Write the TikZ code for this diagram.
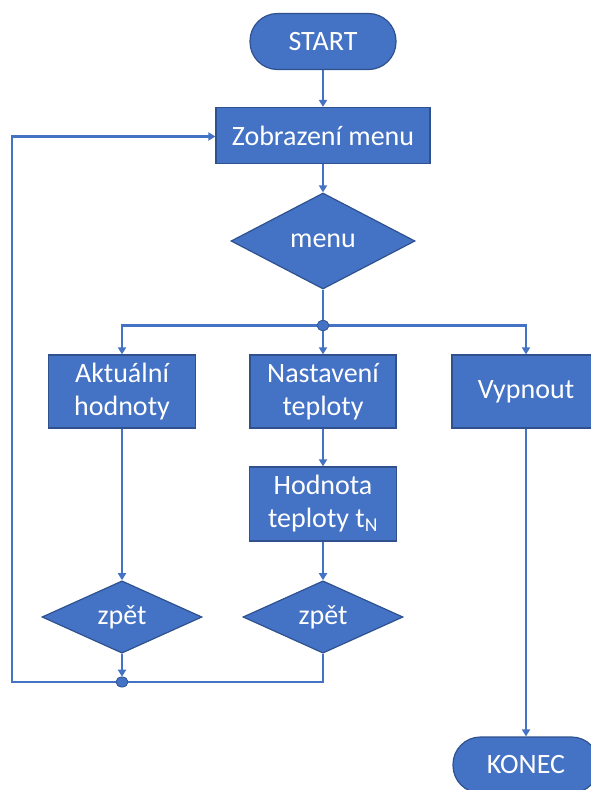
\documentclass[tikz,border=0pt]{standalone}
\usepackage{fontspec}
\setmainfont{Carlito}
\usetikzlibrary{shapes.geometric,arrows.meta}
\definecolor{flowblue}{HTML}{4472C4}
\definecolor{flowedge}{HTML}{2F528F}
\tikzset{
  base/.style={fill=flowblue, draw=flowedge, line width=1.2pt, text=white,
    font=\fontsize{28}{33}\selectfont, inner sep=0pt, align=center},
  terminal/.style={base, rectangle, rounded corners=27.5pt, minimum width=146pt, minimum height=56pt},
  process/.style={base, rectangle, minimum height=73pt},
  decision/.style={base, diamond, minimum width=160pt, minimum height=72pt},
  junction/.style={ellipse, fill=flowblue, draw=flowedge, line width=0.6pt,
    minimum width=12pt, minimum height=10pt, inner sep=0pt},
  flow/.style={draw=flowblue, line width=2.2pt, -{Triangle[width=8pt,length=7pt]}},
  link/.style={draw=flowblue, line width=2.2pt}
}
\begin{document}
\begin{tikzpicture}[x=1pt,y=-1pt]
  \useasboundingbox (0,0) rectangle (591,790);
  \clip (0,0) rectangle (591,790);

  % main column
  \node[terminal] (start) at (323,41.5) {START};
  \node[process, minimum width=214pt, minimum height=56pt] (show) at (323,135.5) {Zobrazení menu};
  \node[decision, minimum width=184pt, minimum height=96pt] (menu) at (323,241) {menu};
  \node[junction] (split) at (323,325.5) {};

  % branches
  \node[process, minimum width=147pt] (actual) at (122,391.5) {Aktuální\\hodnoty};
  \node[process, minimum width=146pt] (setup) at (323,391.5) {Nastavení\\teploty};
  \node[process, minimum width=148pt] (off) at (526,391.5) {Vypnout};
  \node[process, minimum width=147pt, minimum height=74pt] (value) at (323,504) {Hodnota\\teploty t\textsubscript{N}};

  \node[decision] (back1) at (122,617) {zpět};
  \node[decision] (back2) at (323,617) {zpět};
  \node[junction] (merge) at (122,682) {};
  \node[terminal] (end) at (526,765) {KONEC};

  % corner points of the return loop
  \coordinate (loopbl) at (12,682);
  \coordinate (looptl) at (12,136.5);
  \coordinate (br2) at (323,682);

  % connectors
  \draw[flow] (start) -- (show);
  \draw[flow] (show) -- (menu);
  \draw[link] (menu) -- (split);
  \draw[flow] (split) -| (actual);
  \draw[flow] (split) -- (setup);
  \draw[flow] (split) -| (off);
  \draw[flow] (setup) -- (value);
  \draw[flow] (actual) -- (back1);
  \draw[flow] (value) -- (back2);
  \draw[flow] (back1) -- (merge);
  \draw[link] (back2.south) -- (br2) -- (merge);
  \draw[flow] (merge) -- (loopbl) -- (looptl) -- (show.west |- looptl);
  \draw[flow] (off) -- (end);
  \node[junction] at (split) {};
  \node[junction] at (merge) {};
\end{tikzpicture}
\end{document}
